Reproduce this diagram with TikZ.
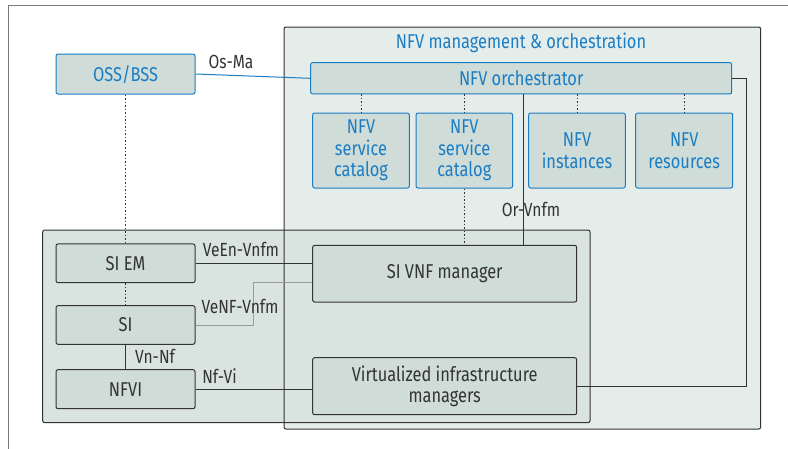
\documentclass[tikz,border=0pt]{standalone}
\usepackage{fontspec}
\setmainfont[FakeStretch=0.82]{Fira Sans}
\definecolor{nblue}{HTML}{1A7DC4}
\definecolor{boxfill}{HTML}{CFDCD8}
\definecolor{manofill}{HTML}{E5EDEB}
\definecolor{lowfill}{HTML}{D9E3E0}
\definecolor{dk}{HTML}{333333}
\definecolor{lg}{HTML}{999999}
\definecolor{frame}{HTML}{7A7A7A}
\begin{document}
\begin{tikzpicture}[x=1pt,y=-1pt,
  bluebox/.style={draw=nblue,fill=boxfill,line width=1pt,rounded corners=2pt,text=nblue,font=\fontsize{20}{21.5}\selectfont,align=center,inner sep=0pt},
  graybox/.style={draw=dk,fill=boxfill,line width=1pt,rounded corners=2pt,text=dk,font=\fontsize{20}{21.5}\selectfont,align=center,inner sep=0pt},
  lbl/.style={text=dk,font=\fontsize{19}{19}\selectfont,inner sep=0pt},
  dotl/.style={draw=dk,line width=1pt,dash pattern=on 1.5pt off 2pt},
  conn/.style={draw=dk,line width=1pt},
  gconn/.style={draw=lg,line width=1pt}]
\useasboundingbox (0,0) rectangle (788,448);
\fill[white] (0,0) rectangle (788,448);
% outer frame
\draw[frame,line width=1pt] (8,460) -- (8,5.7) -- (800,5.7);
% MANO box
\fill[manofill,rounded corners=2pt] (284,27) rectangle (760.7,429);
% lower group box
\filldraw[fill=lowfill,draw=dk,line width=1pt,rounded corners=2pt] (42.7,230) rectangle (590,422.7);
\draw[dk,line width=1pt,rounded corners=2pt] (284,27) rectangle (760.7,429);
\node[text=nblue,font=\fontsize{20}{20}\selectfont,inner sep=0pt] (title) at (521,43) {NFV management \& orchestration};
% nodes
\node[bluebox,minimum width=139pt,minimum height=40pt] (oss) at (125.5,74) {OSS/BSS};
\node[bluebox,minimum width=421pt,minimum height=31.3pt] (orch) at (521.2,78.3) {NFV orchestrator};
\node[bluebox,minimum width=96.6pt,minimum height=75pt] (cat1) at (361,150.5) {NFV\\service\\catalog};
\node[bluebox,minimum width=96.6pt,minimum height=75pt] (cat2) at (464.3,150.5) {NFV\\service\\catalog};
\node[bluebox,minimum width=96.6pt,minimum height=75pt] (inst) at (577,150.5) {NFV\\instances};
\node[bluebox,minimum width=97pt,minimum height=75pt] (res) at (684.2,150.5) {NFV\\resources};
\node[graybox,minimum width=139pt,minimum height=38.7pt] (siem) at (125.5,263.3) {SI EM};
\node[graybox,minimum width=139pt,minimum height=38.6pt] (si) at (125.5,325) {SI};
\node[graybox,minimum width=139pt,minimum height=39pt] (nfvi) at (125.5,389.2) {NFVI};
\node[graybox,minimum width=264pt,minimum height=56.7pt] (vnfm) at (444.7,273.7) {SI VNF manager};
\node[graybox,minimum width=264pt,minimum height=57pt] (vim) at (444.7,386.2) {Virtualized infrastructure\\managers};
% coordinates
\coordinate (ovx) at (523.3,0);
\coordinate (rx) at (746.7,0);
\coordinate (vnx) at (253.3,0);
\coordinate (ya) at (0,282.7);
% connectors
\draw[nblue,line width=1pt] (oss.east) -- (orch.west);
\node[lbl] (osma) at (231,62) {Os-Ma};
\draw[dotl] (orch.south -| cat1.north) -- (cat1.north);
\draw[dotl] (orch.south -| cat2.north) -- (cat2.north);
\draw[dotl] (orch.south -| inst.north) -- (inst.north);
\draw[dotl] (orch.south -| res.north) -- (res.north);
\draw[dotl] (cat2.south) -- (vnfm.north -| cat2.south);
\node[lbl] (orvnfm) at (531,209) {Or-Vnfm};
\draw[conn] (orch.south -| ovx) -- (vnfm.north -| ovx);
\draw[conn] (orch.east) -- (orch.east -| rx) -- (vim.east -| rx) -- (vim.east);
\draw[dotl] (oss.south) -- (siem.north);
\draw[dotl] (siem.south) -- (si.north);
\draw[conn] (si.south) -- (nfvi.north);
\node[lbl] (vnnf) at (155,356.7) {Vn-Nf};
\draw[conn] (siem.east) -- (siem.east -| vnfm.west);
\node[lbl] (veen) at (241,249.3) {VeEn-Vnfm};
\draw[gconn] (si.east) -- (si.east -| vnx) -- (ya -| vnx) -- (ya -| vnfm.west);
\node[lbl] (venf) at (240,306.7) {VeNF-Vnfm};
\draw[conn] (nfvi.east) -- (nfvi.east -| vim.west);
\node[lbl] (nfvi-l) at (219.5,375.7) {Nf-Vi};
\end{tikzpicture}
\end{document}
